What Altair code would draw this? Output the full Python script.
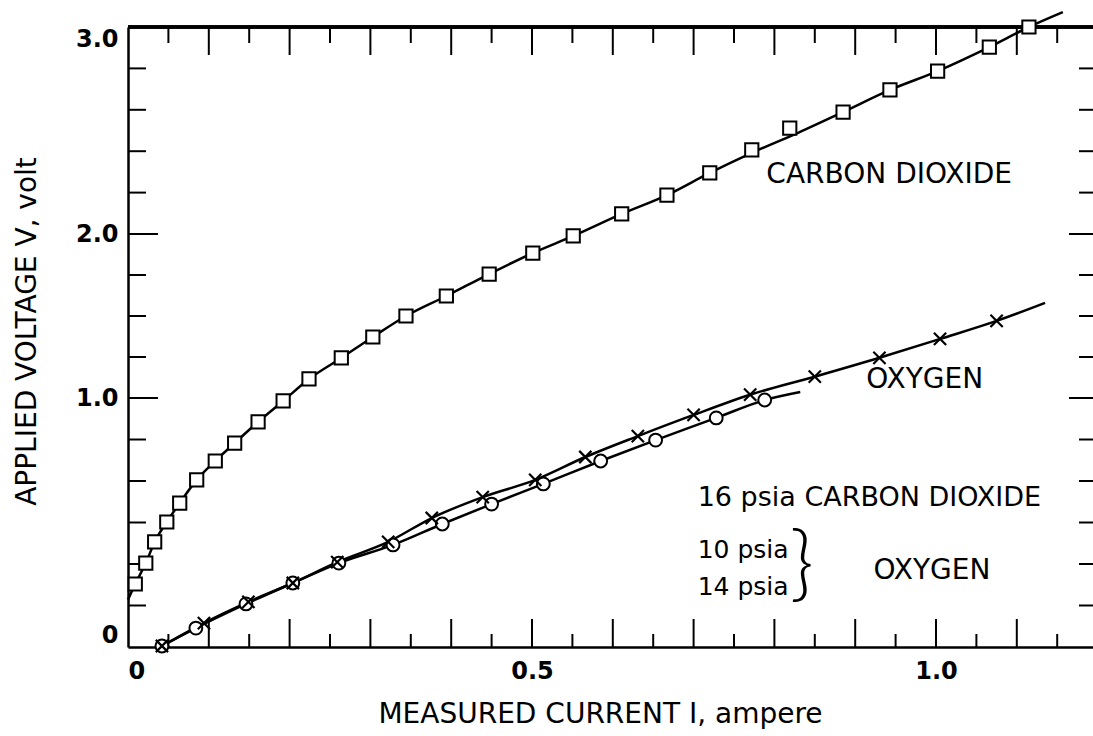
import altair as alt
import pandas as pd

# ---------------- data ----------------
# Carbon dioxide, 16 psia (open squares)
co2_I = [0.009, 0.022, 0.033, 0.048, 0.064, 0.085, 0.108, 0.132, 0.161, 0.192,
         0.224, 0.264, 0.303, 0.344, 0.394, 0.447, 0.501, 0.551, 0.611, 0.667,
         0.720, 0.772, 0.819, 0.885, 0.943, 1.002, 1.066, 1.115]
co2_V = [0.253, 0.337, 0.422, 0.502, 0.578, 0.671, 0.747, 0.819, 0.904, 0.988,
         1.116, 1.244, 1.372, 1.500, 1.622, 1.756, 1.884, 1.988, 2.097, 2.188,
         2.295, 2.406, 2.512, 2.589, 2.696, 2.787, 2.903, 3.000]
# points
co2_line_I = [0.0, 0.009, 0.022, 0.033, 0.048, 0.064, 0.085, 0.108, 0.132, 0.161,
              0.192, 0.224, 0.264, 0.303, 0.344, 0.394, 0.447, 0.501, 0.551, 0.611,
              0.667, 0.720, 0.772, 0.830, 0.885, 0.943, 1.002, 1.066, 1.115, 1.157]
co2_line_V = [0.19, 0.253, 0.337, 0.422, 0.502, 0.578, 0.671, 0.747, 0.819, 0.904,
              0.988, 1.116, 1.244, 1.372, 1.500, 1.622, 1.756, 1.884, 1.988, 2.097,
              2.188, 2.295, 2.392, 2.490, 2.589, 2.696, 2.787, 2.903, 3.000, 3.072]

# Oxygen, 10 psia (crosses)
o2x_I = [0.042, 0.094, 0.149, 0.204, 0.259, 0.322, 0.376, 0.439, 0.504, 0.566,
         0.631, 0.700, 0.770, 0.850, 0.930, 1.005, 1.075]
o2x_V = [0.004, 0.096, 0.181, 0.257, 0.341, 0.422, 0.518, 0.602, 0.671, 0.763,
         0.847, 0.932, 1.020, 1.130, 1.245, 1.360, 1.470]
o2x_line_end = (1.135, 1.58)

# Oxygen, 14 psia (open circles)
o2o_I = [0.042, 0.084, 0.146, 0.204, 0.261, 0.328, 0.389, 0.450, 0.514, 0.585,
         0.653, 0.728, 0.788]
o2o_V = [0.004, 0.076, 0.173, 0.257, 0.337, 0.410, 0.494, 0.574, 0.655, 0.747,
         0.831, 0.920, 0.992]
o2o_line_end = (0.832, 1.037)

# axis ticks and labels
x_label_values = [0.0, 0.5, 1.0]
x_major_ticks = [0.1, 0.2, 0.3, 0.4, 0.5, 0.6, 0.7, 0.8, 0.9, 1.0, 1.1]
x_minor_ticks = [0.05, 0.15, 0.25, 0.35, 0.45, 0.55, 0.65, 0.75, 0.85, 0.95, 1.05, 1.15]
y_label_values = [0.0, 1.0, 2.0, 3.0]
y_minor_ticks = [0.1667, 0.3333, 0.5, 0.6667, 0.8333,
                 1.25, 1.5, 1.75,
                 2.2, 2.4, 2.6, 2.8]

# annotation texts
ann_text = ["CARBON DIOXIDE", "OXYGEN", "OXYGEN"]
ann_I = [0.942, 0.986, 0.995]
ann_V = [2.285, 1.11, 0.305]
legend_big_text = ["16 psia CARBON DIOXIDE"]
legend_big_I = [0.705]
legend_big_V = [0.598]
legend_small_text = ["10 psia", "14 psia"]
legend_small_I = [0.705, 0.705]
legend_small_V = [0.39, 0.241]
brace_I = [0.834]
brace_V = [0.325]

# ---------------- chart ----------------
W, H = 965, 620
FONT = "DejaVu Sans"

xs = alt.Scale(domain=[0, 965 / 808], nice=False, zero=False)
ys = alt.Scale(domain=[0, 1, 2, 3], range=[620, 371, 207, 0], nice=False, zero=False)

xaxis = alt.Axis(values=x_label_values, grid=False, ticks=False, domain=True,
                 domainColor="black", domainWidth=2.5,
                 labelExpr="datum.value == 0 ? '0' : format(datum.value, '.1f')",
                 labelFontSize=24, labelFontWeight="bold", labelColor="black",
                 labelPadding=12, labelFlush=True, labelFont=FONT,
                 title="MEASURED CURRENT I, ampere", titleFontSize=28,
                 titleFontWeight="normal", titleColor="black", titleFont=FONT,
                 titleX=472, titleY=67, titleAlign="center", titleBaseline="middle",
                 titleAnchor="start")
yaxis = alt.Axis(values=y_label_values, grid=False, ticks=False, domain=True,
                 domainColor="black", domainWidth=2.5,
                 labelExpr="datum.value == 0 ? '0' : format(datum.value, '.1f')",
                 labelFontSize=24, labelFontWeight="bold", labelColor="black",
                 labelPadding=10, labelFlush=True, labelFont=FONT,
                 title="APPLIED VOLTAGE V, volt", titleFontSize=28,
                 titleFontWeight="normal", titleColor="black", titleFont=FONT,
                 titleX=-101, titleY=304, titleAngle=270, titleAlign="center",
                 titleBaseline="middle", titleAnchor="start")


def X(field):
    return alt.X(field, type="quantitative", scale=xs, axis=xaxis)


def Y(field):
    return alt.Y(field, type="quantitative", scale=ys, axis=yaxis)


co2_df = pd.DataFrame({"I": co2_I, "V": co2_V})
co2_line_df = pd.DataFrame({"I": co2_line_I, "V": co2_line_V})
o2x_df = pd.DataFrame({"I": o2x_I, "V": o2x_V})
o2x_line_df = pd.DataFrame({"I": o2x_I + [o2x_line_end[0]], "V": o2x_V + [o2x_line_end[1]]})
o2o_df = pd.DataFrame({"I": o2o_I, "V": o2o_V})
o2o_line_df = pd.DataFrame({"I": o2o_I + [o2o_line_end[0]], "V": o2o_V + [o2o_line_end[1]]})

line_kw = dict(color="black", strokeWidth=2.5, clip=False)

co2_line = alt.Chart(co2_line_df).mark_line(interpolate="monotone", **line_kw).encode(
    x=X("I"), y=Y("V"), order="I:Q")
o2x_line = alt.Chart(o2x_line_df).mark_line(interpolate="monotone", **line_kw).encode(
    x=X("I"), y=Y("V"), order="I:Q")
o2o_line = alt.Chart(o2o_line_df).mark_line(interpolate="monotone", **line_kw).encode(
    x=X("I"), y=Y("V"), order="I:Q")

co2_pts = alt.Chart(co2_df).mark_point(shape="square", size=175, filled=True, fill="white",
                                       stroke="black", strokeWidth=2, opacity=1, clip=False).encode(
    x=X("I"), y=Y("V"))
o2o_pts = alt.Chart(o2o_df).mark_point(shape="circle", size=165, filled=True, fill="white",
                                       stroke="black", strokeWidth=2, opacity=1, clip=False).encode(
    x=X("I"), y=Y("V"))
o2x_pts = alt.Chart(o2x_df).mark_point(shape="M-1,-1L1,1M-1,1L1,-1", size=150, filled=False,
                                       stroke="black", strokeWidth=2.2, opacity=1, clip=False).encode(
    x=X("I"), y=Y("V"))

# frame ticks (pointing inward)
xmaj_df = pd.DataFrame({"I": x_major_ticks})
xmin_df = pd.DataFrame({"I": x_minor_ticks})
ylab_df = pd.DataFrame({"V": y_label_values[1:3]})
ymin_df = pd.DataFrame({"V": y_minor_ticks})

tick_kw = dict(color="black", strokeWidth=2)
bot_major = alt.Chart(xmaj_df).mark_rule(**tick_kw).encode(x=X("I"), y=alt.value(H), y2=alt.value(H - 28))
bot_minor = alt.Chart(xmin_df).mark_rule(**tick_kw).encode(x=X("I"), y=alt.value(H), y2=alt.value(H - 13))
top_major = alt.Chart(xmaj_df).mark_rule(**tick_kw).encode(x=X("I"), y=alt.value(0), y2=alt.value(28))
top_minor = alt.Chart(xmin_df).mark_rule(**tick_kw).encode(x=X("I"), y=alt.value(0), y2=alt.value(16))
left_major = alt.Chart(ylab_df).mark_rule(**tick_kw).encode(y=Y("V"), x=alt.value(0), x2=alt.value(30))
left_minor = alt.Chart(ymin_df).mark_rule(**tick_kw).encode(y=Y("V"), x=alt.value(0), x2=alt.value(18))
right_major = alt.Chart(ylab_df).mark_rule(**tick_kw).encode(y=Y("V"), x=alt.value(W), x2=alt.value(W - 24))
right_minor = alt.Chart(ymin_df).mark_rule(**tick_kw).encode(y=Y("V"), x=alt.value(W), x2=alt.value(W - 14))
top_frame = alt.Chart(xmaj_df).mark_rule(color="black", strokeWidth=2.5).encode(
    x=alt.value(0), x2=alt.value(W), y=alt.value(0))

# annotations
ann_df = pd.DataFrame({"I": ann_I, "V": ann_V, "t": ann_text})
legb_df = pd.DataFrame({"I": legend_big_I, "V": legend_big_V, "t": legend_big_text})
legs_df = pd.DataFrame({"I": legend_small_I, "V": legend_small_V, "t": legend_small_text})
brace_df = pd.DataFrame({"I": brace_I, "V": brace_V, "t": ["}"]})

ann = alt.Chart(ann_df).mark_text(font=FONT, fontSize=28, color="black", align="center",
                                  baseline="middle").encode(x=X("I"), y=Y("V"), text="t:N")
legb = alt.Chart(legb_df).mark_text(font=FONT, fontSize=27, color="black", align="left",
                                    baseline="middle").encode(x=X("I"), y=Y("V"), text="t:N")
legs = alt.Chart(legs_df).mark_text(font=FONT, fontSize=25, color="black", align="left",
                                    baseline="middle").encode(x=X("I"), y=Y("V"), text="t:N")
brace = alt.Chart(brace_df).mark_text(font="Lato", fontSize=82, fontWeight=300,
                                      color="black", align="center", baseline="middle").encode(
    x=X("I"), y=Y("V"), text="t:N")

chart = alt.layer(
    top_frame, bot_major, bot_minor, top_major, top_minor,
    left_major, left_minor, right_major, right_minor,
    co2_line, o2x_line, o2o_line,
    co2_pts, o2o_pts, o2x_pts,
    ann, legb, legs, brace,
).properties(
    width=W, height=H,
    autosize=alt.AutoSizeParams(type="none"),
    padding={"left": 128, "top": 27, "right": 0, "bottom": 89},
).configure_view(
    strokeWidth=0
).configure(
    background="white", font=FONT
)

chart.save("out.html", embed_options={"renderer": "svg", "actions": False})
